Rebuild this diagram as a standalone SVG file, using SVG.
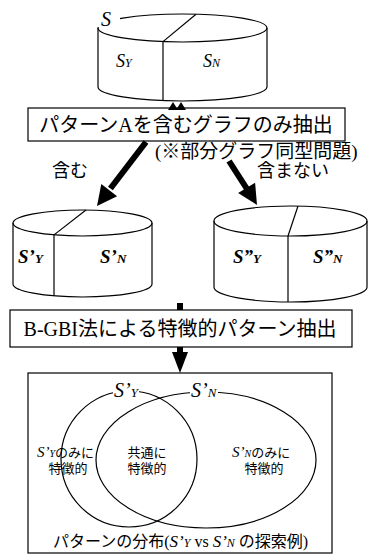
<svg xmlns="http://www.w3.org/2000/svg" width="371" height="556" viewBox="0 0 371 556">
<style>
.ln{fill:none;stroke:#000;stroke-width:1.2}
.bx{fill:#fff;stroke:#000;stroke-width:1.2}
.jp{font-family:'Liberation Serif','Noto Sans CJK JP',serif;fill:#000}
.it{font-family:'Liberation Serif',serif;font-style:italic;fill:#000}
.bi{font-family:'Liberation Serif',serif;font-style:italic;font-weight:bold;fill:#000}
.ar{fill:#000}
.th{stroke:#000;stroke-width:6;fill:none}
</style>
<rect width="371" height="556" fill="#fff"/>
<g id="db-S">
<ellipse class="ln" cx="182.5" cy="28" rx="84.5" ry="14"/>
<line class="ln" x1="98" y1="28" x2="98" y2="87"/>
<line class="ln" x1="267" y1="28" x2="267" y2="87"/>
<path class="ln" d="M98,87 A84.5,14 0 0 0 267,87"/>
<line class="ln" x1="163" y1="41.6" x2="163" y2="100.6"/>
<line class="ln" x1="163" y1="41.6" x2="196" y2="14.2"/>
<rect x="95" y="6" width="25" height="21" fill="#fff"/>
<text class="it" x="101" y="26" font-size="20">S</text>
<text class="it" x="116" y="67" font-size="18">S<tspan font-size="12">Y</tspan></text>
<text class="it" x="203" y="67" font-size="18">S<tspan font-size="12">N</tspan></text>
</g>
<g id="box-extract">
<rect class="bx" x="28" y="108" width="317" height="33"/>
<text class="jp" x="186" y="132" font-size="20" text-anchor="middle">パターンAを含むグラフのみ抽出</text>
</g>
<g id="note">
<text class="jp" x="155" y="158" font-size="19">(※部分グラフ同型問題)</text>
</g>
<g id="db-S1">
<ellipse class="ln" cx="82.5" cy="223" rx="69.5" ry="13"/>
<line class="ln" x1="13" y1="223" x2="13" y2="284"/>
<line class="ln" x1="152" y1="223" x2="152" y2="284"/>
<path class="ln" d="M13,284 A69.5,13 0 0 0 152,284"/>
<line class="ln" x1="54" y1="234.9" x2="54" y2="295.9"/>
<line class="ln" x1="54" y1="234.9" x2="86" y2="210"/>
<text class="bi" x="18" y="263" font-size="19">S’<tspan font-size="13">Y</tspan></text>
<text class="bi" x="100" y="263" font-size="19">S’<tspan font-size="13">N</tspan></text>
</g>
<g id="db-S2">
<ellipse class="ln" cx="290.5" cy="221" rx="76.5" ry="15"/>
<line class="ln" x1="214" y1="221" x2="214" y2="287"/>
<line class="ln" x1="367" y1="221" x2="367" y2="287"/>
<path class="ln" d="M214,287 A76.5,15 0 0 0 367,287"/>
<line class="ln" x1="288" y1="236" x2="288" y2="302"/>
<line class="ln" x1="288" y1="236" x2="298" y2="206"/>
<text class="bi" x="233" y="263" font-size="19">S”<tspan font-size="13">Y</tspan></text>
<text class="bi" x="313" y="263" font-size="19">S”<tspan font-size="13">N</tspan></text>
</g>
<g id="box-bgbi">
<rect class="bx" x="10" y="310" width="342" height="37"/>
<text class="jp" x="180" y="336" font-size="20" text-anchor="middle">B-GBI法による特徴的パターン抽出</text>
</g>
<g id="venn">
<rect class="bx" x="28" y="373" width="304" height="180"/>
<ellipse class="ln" cx="129" cy="459" rx="68" ry="68"/>
<ellipse class="ln" cx="206" cy="460" rx="110" ry="68"/>
<rect x="113" y="382" width="26" height="17" fill="#fff"/>
<rect x="190" y="382" width="28" height="17" fill="#fff"/>
<text class="it" x="114" y="397" font-size="20">S’<tspan font-size="13">Y</tspan></text>
<text class="it" x="191" y="397" font-size="20">S’<tspan font-size="13">N</tspan></text>
<text class="jp" x="37" y="457" font-size="13"><tspan class="it" font-size="15">S’</tspan><tspan class="it" font-size="10">Y</tspan>のみに</text>
<text class="jp" x="68" y="473" font-size="13" text-anchor="middle">特徴的</text>
<text class="jp" x="147" y="457" font-size="13" text-anchor="middle">共通に</text>
<text class="jp" x="147" y="473" font-size="13" text-anchor="middle">特徴的</text>
<text class="jp" x="232" y="457" font-size="13"><tspan class="it" font-size="15">S’</tspan><tspan class="it" font-size="10">N</tspan>のみに</text>
<text class="jp" x="264" y="473" font-size="13" text-anchor="middle">特徴的</text>
<text class="jp" x="53" y="547" font-size="16">パターンの分布(<tspan class="it" font-size="17">S’</tspan><tspan class="it" font-size="12">Y</tspan> vs <tspan class="it" font-size="17">S’</tspan><tspan class="it" font-size="12">N</tspan> の探索例)</text>
</g>
<g id="labels">
<text class="jp" x="52" y="177" font-size="18">含む</text>
<text class="jp" x="257" y="177" font-size="18">含まない</text>
</g>
<g id="connectors">
<polygon class="ar" points="173,102 168,110 178,110"/>
<polygon class="ar" points="181,102 176,110 186,110"/>
<line class="th" x1="146" y1="142" x2="110.4" y2="188.5"/>
<polygon class="ar" points="97,206 117.1,196.2 101.3,184"/>
<line class="th" x1="229" y1="161" x2="247" y2="189"/>
<polygon class="ar" points="257,205 255.1,182.7 238.1,193.1"/>
<rect class="ar" x="177" y="303" width="6" height="7"/>
<line class="th" x1="180" y1="347" x2="180" y2="355" stroke-width="5"/>
<polygon class="ar" points="172,352 188,352 180,373"/>
</g>
</svg>
